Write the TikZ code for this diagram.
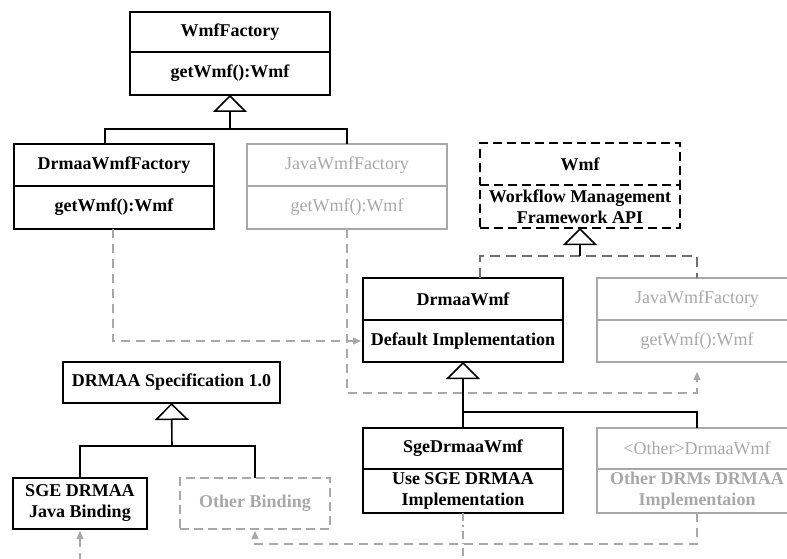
\documentclass[tikz,border=0pt]{standalone}
\usepackage{fontspec}
\setmainfont{Liberation Serif}
\usetikzlibrary{arrows.meta}
\definecolor{lg}{HTML}{A8A8A8}
\definecolor{dg}{HTML}{707070}
\tikzset{
  box/.style={draw=black, line width=1.6pt, minimum width=200pt, inner sep=0pt, outer sep=0pt,
    font=\bfseries\fontsize{18}{21}\selectfont, align=center, anchor=north west},
  gbox/.style={box, draw=lg, text=lg, line width=1.2pt},
  gnorm/.style={font=\fontsize{18}{21}\selectfont},
  dbox/.style={box, dash pattern=on 9pt off 5pt},
  conn/.style={line width=1.6pt, black},
  inh/.style={-{Triangle[open,length=17pt,width=34pt,line width=1.5pt]}},
  dconn/.style={line width=1.6pt, dg, dash pattern=on 10pt off 6pt},
  gconn/.style={line width=1.3pt, lg, dash pattern=on 9pt off 6pt},
  gtip/.style={-{Triangle[length=8pt,width=7pt]}, shorten >=2pt},
}
\begin{document}
\begin{tikzpicture}[x=1pt,y=-1pt]
\useasboundingbox (0,0) rectangle (787,559);
\fill[white] (0,0) rectangle (787,559);

% WmfFactory
\node[box, minimum height=40pt] (wfa) at (130,12) {WmfFactory};
\node[box, minimum height=43pt] (wfb) at (130,52) {getWmf():Wmf};
% DrmaaWmfFactory
\node[box, minimum height=42pt] (dwfa) at (14,144) {DrmaaWmfFactory};
\node[box, minimum height=43pt] (dwfb) at (14,186) {getWmf():Wmf};
% JavaWmfFactory (left)
\node[gbox, gnorm, minimum height=42pt] (jwfa) at (247,144) {JavaWmfFactory};
\node[gbox, gnorm, minimum height=43pt] (jwfb) at (247,186) {getWmf():Wmf};
% Wmf
\node[dbox, minimum height=42pt] (wmfa) at (480,143) {Wmf};
\node[dbox, minimum height=43pt] (wmfb) at (480,185) {Workflow Management\\Framework API};
% DrmaaWmf
\node[box, minimum height=42pt] (dwa) at (363,278) {DrmaaWmf};
\node[box, minimum height=42pt] (dwb) at (363,320) {Default Implementation};
% JavaWmfFactory (right)
\node[gbox, gnorm, minimum height=42pt] (jwra) at (597,278) {JavaWmfFactory};
\node[gbox, gnorm, minimum height=42pt] (jwrb) at (597,320) {getWmf():Wmf};
% SgeDrmaaWmf
\node[box, minimum height=41pt] (sgea) at (363,428) {SgeDrmaaWmf};
\node[box, minimum height=44pt] (sgeb) at (363,469) {Use SGE DRMAA\\Implementation};
% <Other>DrmaaWmf
\node[gbox, gnorm, minimum height=41pt] (otha) at (597,428) {<Other>DrmaaWmf};
\node[gbox, minimum height=44pt] (othb) at (597,469) {Other DRMs DRMAA\\Implementaion};
% DRMAA Specification
\node[box, minimum width=217pt, minimum height=41pt] (spec) at (63,362) {DRMAA Specification 1.0};
\node[box, minimum width=134pt, minimum height=51pt] (sgebind) at (13,478) {SGE DRMAA\\Java Binding};
\node[gbox, minimum width=150pt, minimum height=51pt, dash pattern=on 9pt off 5pt] (obind) at (180,478) {Other Binding};

% inheritance WmfFactory
\coordinate (j1) at (230,129);
\draw[conn] ([xshift=-9pt]dwfa.north) |- (j1) -| (jwfa.north);
\draw[conn, inh] (j1) -- (wfb.south);
% inheritance Wmf
\coordinate (j2) at (580,256);
\draw[dconn] ([xshift=17pt]dwa.north) |- (j2) -| (jwra.north);
\draw[conn, inh] (j2) -- (wmfb.south);
% inheritance DrmaaWmf
\coordinate (j3) at (463,412);
\draw[conn, inh] (sgea.north) -- (dwb.south);
\draw[conn] (j3) -| (otha.north);
% inheritance DRMAA spec
\coordinate (j4) at (172,446);
\draw[conn] (sgebind.north) |- (j4) -| (obind.north);
\draw[conn, inh] (j4) -- (spec.south);

% gray dashed usage connectors
\draw[gconn, gtip] ([xshift=-1pt]dwfb.south) |- (dwb.west);
\coordinate (c2) at (347,393);
\draw[gconn, gtip, shorten >=10pt] (jwfb.south) -- (c2) -| (jwrb.south);
\coordinate (c3) at (697,544);
\draw[gconn, gtip] (othb.south) -- (c3) -| (obind.south);
\coordinate (c4) at (80,562);
\draw[gconn, gtip] (c4) -- (sgebind.south);
\coordinate (c5) at (463,562);
\draw[line width=1.2pt, lg, dash pattern=on 8pt off 4pt on 1.5pt off 4pt] (sgeb.south) -- (c5);
\end{tikzpicture}
\end{document}
